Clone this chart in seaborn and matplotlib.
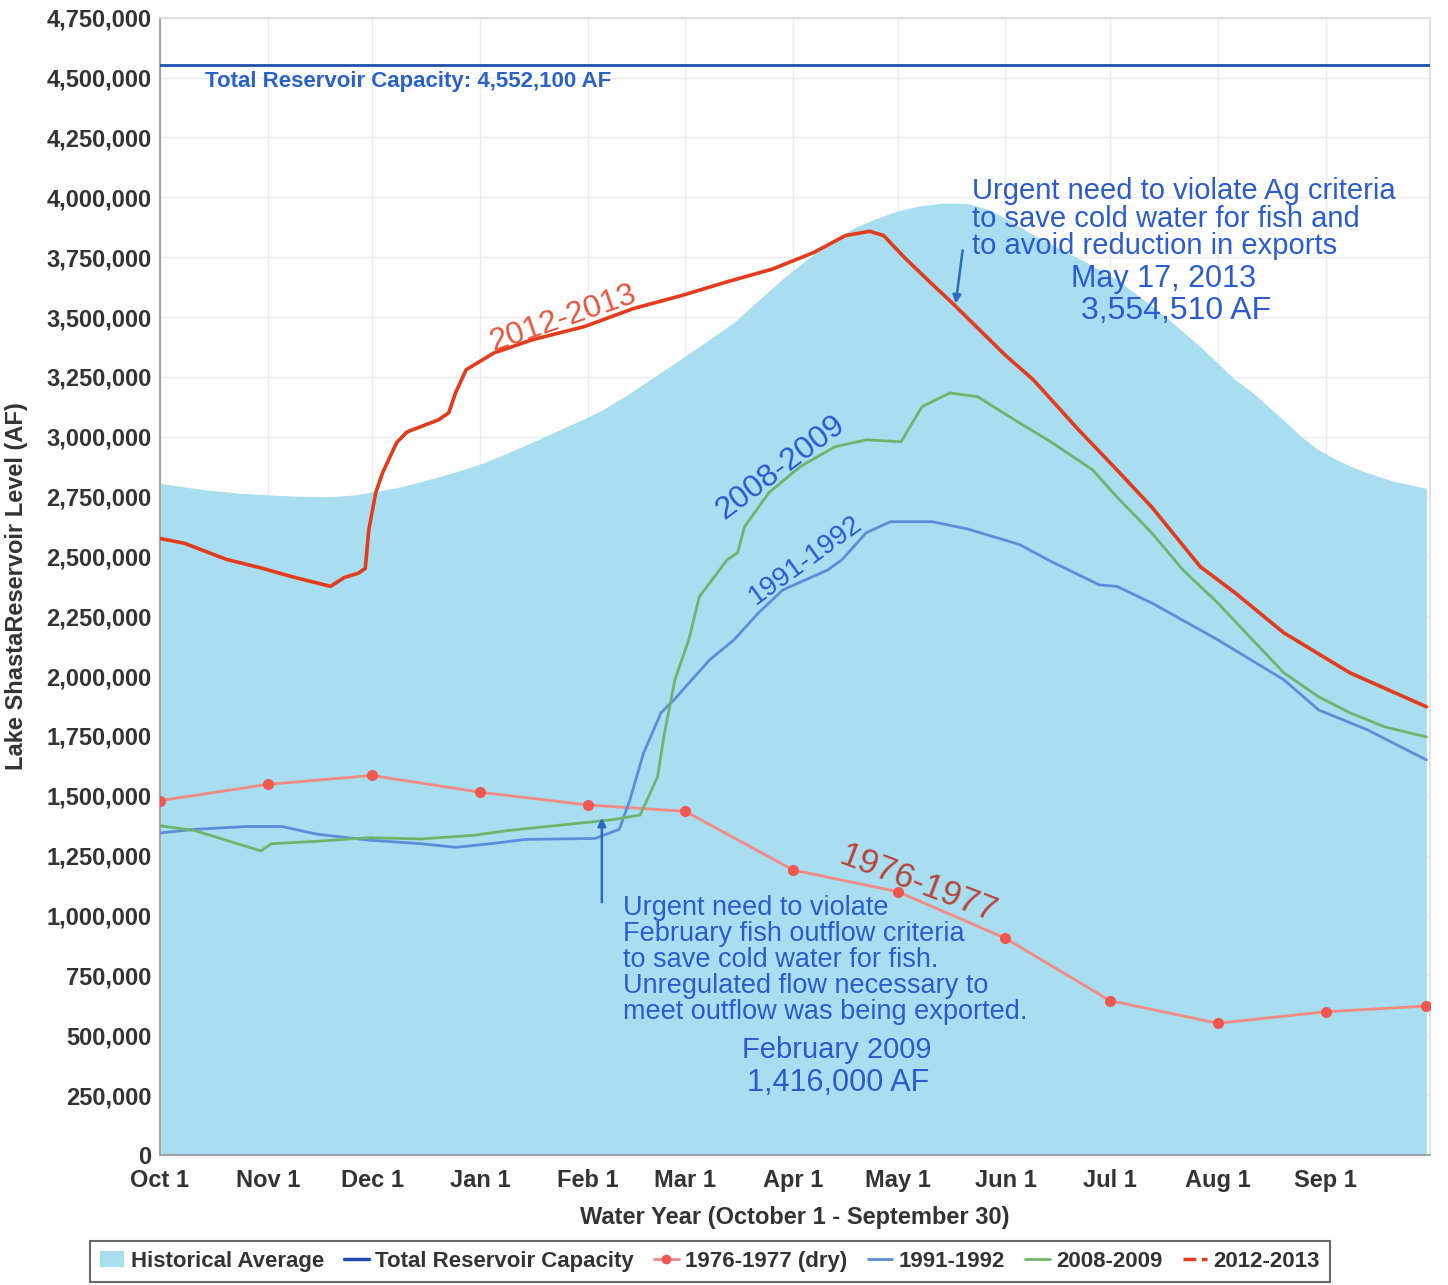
import matplotlib
matplotlib.use("Agg")
import matplotlib.pyplot as plt
from matplotlib.patches import Patch
from matplotlib.lines import Line2D
from matplotlib.ticker import FuncFormatter, MultipleLocator
import seaborn as sns

# days counted from Oct 1 (water year)
month_days = [0, 31, 61, 92, 123, 151, 182, 212, 243, 273, 304, 335]
month_labels = ["Oct 1", "Nov 1", "Dec 1", "Jan 1", "Feb 1", "Mar 1",
                "Apr 1", "May 1", "Jun 1", "Jul 1", "Aug 1", "Sep 1"]

capacity = 4552100

# historical average (area)
hist_days = [0, 8, 15, 23, 31, 40, 49, 56, 62, 70, 77, 85, 93, 102, 112, 120,
             127, 134, 141, 148, 155, 165, 172, 179, 185, 190, 195, 200, 206,
             212, 218, 225, 232, 238, 243, 249, 256, 265, 275, 282, 290, 299,
             304, 309, 314, 319, 324, 328, 333, 338, 343, 347, 355, 364]
hist_vals = [2805000, 2788000, 2775000, 2764000, 2757000, 2751000, 2749000,
             2757000, 2771000, 2793000, 2820000, 2853000, 2891000, 2945000,
             3010000, 3062000, 3110000, 3172000, 3240000, 3308000, 3377000,
             3478000, 3570000, 3660000, 3730000, 3785000, 3835000, 3876000,
             3912000, 3943000, 3963000, 3976000, 3974000, 3950000, 3912000,
             3860000, 3805000, 3738000, 3656000, 3580000, 3489000, 3376000,
             3308000, 3238000, 3185000, 3120000, 3055000, 3000000, 2945000,
             2905000, 2872000, 2849000, 2812000, 2785000]

# 1976-1977 (dry), monthly points
dry_days = month_days + [364]
dry_vals = [1480000, 1548000, 1585000, 1515000, 1462000, 1435000, 1190000,
            1100000, 905000, 645000, 550000, 598000, 622000]

# 1991-1992
y91_days = [0, 10, 25, 35, 45, 60, 75, 85, 95, 105, 125, 132, 135, 139, 144,
            148, 152, 158, 165, 172, 179, 192, 196, 203, 210, 222, 232, 247,
            256, 270, 275, 285, 304, 323, 333, 347, 364]
y91_vals = [1345000, 1360000, 1372000, 1372000, 1340000, 1315000, 1300000,
            1285000, 1300000, 1318000, 1322000, 1360000, 1480000, 1679000,
            1847000, 1905000, 1971000, 2068000, 2152000, 2264000, 2360000,
            2444000, 2486000, 2599000, 2645000, 2645000, 2615000, 2550000,
            2480000, 2381000, 2375000, 2306000, 2152000, 1985000, 1859000,
            1776000, 1650000]

# 2008-2009
y08_days = [0, 10, 20, 29, 32, 45, 60, 75, 90, 100, 120, 130, 138, 143, 145,
            148, 152, 155, 163, 166, 168, 175, 184, 194, 203, 213, 219, 227,
            235, 247, 256, 268, 275, 285, 294, 304, 314, 323, 333, 342, 352,
            364]
y08_vals = [1375000, 1355000, 1310000, 1270000, 1300000, 1310000, 1325000,
            1320000, 1335000, 1355000, 1385000, 1400000, 1420000, 1579000,
            1763000, 1985000, 2152000, 2331000, 2486000, 2515000, 2624000,
            2766000, 2875000, 2958000, 2987000, 2979000, 3125000, 3183000,
            3167000, 3058000, 2979000, 2862000, 2749000, 2599000, 2444000,
            2306000, 2152000, 2014000, 1914000, 1847000, 1788000, 1746000]

# 2012-2013
y12_days = [0, 7, 19, 29, 38, 49, 53, 57, 59, 60, 62, 64, 68, 71, 80, 83, 85,
            88, 96, 107, 122, 136, 150, 163, 176, 188, 197, 204, 208, 214,
            221, 228, 236, 243, 251, 264, 275, 285, 299, 309, 323, 342, 364]
y12_vals = [2575000, 2555000, 2488000, 2452000, 2415000, 2375000, 2412000,
            2430000, 2450000, 2610000, 2766000, 2850000, 2975000, 3020000,
            3070000, 3100000, 3185000, 3280000, 3350000, 3405000, 3460000,
            3535000, 3590000, 3647000, 3700000, 3770000, 3840000, 3858000,
            3840000, 3748000, 3650000, 3554510, 3440000, 3340000, 3238000,
            3029000, 2862000, 2707000, 2457000, 2348000, 2181000, 2014000,
            1872000]

sns.set_theme(style="white")
plt.rcParams["font.family"] = ["Liberation Sans", "DejaVu Sans"]

fill_c = "#a8def0"
cap_c = "#1f4fae"
dry_c = "#f38a84"
c91 = "#5b8ed8"
c08 = "#6db56d"
c12 = "#e33b1c"
ink = "#2a5bd0"

fig = plt.figure(figsize=(14.48, 12.85), dpi=100)
ax = fig.add_axes([0.1105, 0.1012, 0.877, 0.885])

ax.fill_between(hist_days, hist_vals, 0, color=fill_c, lw=0, zorder=1)
ax.axhline(capacity, color=cap_c, lw=2, zorder=3)

sns.lineplot(x=dry_days, y=dry_vals, ax=ax, color=dry_c, lw=2, marker="o",
             markersize=8, markerfacecolor="#f2574f", markeredgewidth=0, zorder=4)
sns.lineplot(x=y91_days, y=y91_vals, ax=ax, color=c91, lw=2, zorder=4)
sns.lineplot(x=y08_days, y=y08_vals, ax=ax, color=c08, lw=2, zorder=4)
sns.lineplot(x=y12_days, y=y12_vals, ax=ax, color=c12, lw=2.6, zorder=5)

ax.set_xlim(0, 365)
ax.set_ylim(0, 4750000)
ax.set_xticks(month_days)
ax.set_xticklabels(month_labels)
ax.yaxis.set_major_locator(MultipleLocator(250000))
ax.yaxis.set_major_formatter(FuncFormatter(lambda v, p: f"{int(v):,}"))
ax.grid(True, color="#ececec", lw=1)
ax.set_axisbelow(True)
for s in ["top", "right"]:
    ax.spines[s].set_color("#dddddd")
for s in ["left", "bottom"]:
    ax.spines[s].set_color("#999999")
ax.tick_params(axis="both", labelsize=17, colors="#333333", length=4,
               direction="out")
ax.tick_params(axis="y", pad=2)
ax.tick_params(axis="x", pad=6)
for lab in ax.get_xticklabels() + ax.get_yticklabels():
    lab.set_fontweight("bold")
ax.set_xlabel("Water Year (October 1 - September 30)", fontsize=17,
              fontweight="bold", color="#333333", labelpad=10)
ax.set_ylabel("Lake ShastaReservoir Level (AF)", fontsize=17,
              fontweight="bold", color="#333333")
ax.yaxis.set_label_coords(-0.104, 0.5)

ax.text(13, 4483000, "Total Reservoir Capacity: 4,552,100 AF", fontsize=16,
        fontweight="bold", color="#2a62c9", va="center", ha="left", zorder=6)

# handwritten notes
ax.text(233.5, 4085000, "Urgent need to violate Ag criteria\n"
        "to save cold water for fish and\n"
        "to avoid reduction in exports", fontsize=21, color=ink,
        ha="left", va="top", linespacing=0.98, zorder=6)
ax.text(288.5, 3660000, "May 17, 2013", fontsize=22, color=ink, ha="center",
        va="center", zorder=6)
ax.text(292, 3525000, "3,554,510 AF", fontsize=23, color=ink, ha="center",
        va="center", zorder=6)
ax.annotate("", xy=(228.6, 3545000), xytext=(230.8, 3790000),
            arrowprops=dict(arrowstyle="-|>", color="#2a6ac0", lw=1.8),
            zorder=6)

ax.text(133, 1085000, "Urgent need to violate\n"
        "February fish outflow criteria\n"
        "to save cold water for fish.\n"
        "Unregulated flow necessary to\n"
        "meet outflow was being exported.", fontsize=19.5, color=ink,
        ha="left", va="top", linespacing=1.0, zorder=6)
ax.text(194.5, 440000, "February 2009", fontsize=21, color=ink, ha="center",
        va="center", zorder=6)
ax.text(195, 300000, "1,416,000 AF", fontsize=22, color=ink, ha="center",
        va="center", zorder=6)
ax.annotate("", xy=(127, 1420000), xytext=(127, 1044000),
            arrowprops=dict(arrowstyle="-|>", color="#2a6ac0", lw=1.8),
            zorder=6)

ax.text(116, 3495000, "2012-2013", fontsize=23, color="#e8553f", rotation=19,
        ha="center", va="center", zorder=6)
ax.text(178.4, 2870000, "2008-2009", fontsize=23, color=ink, rotation=37,
        ha="center", va="center", zorder=6)
ax.text(185.5, 2485000, "1991-1992", fontsize=20, color=ink, rotation=36,
        ha="center", va="center", zorder=6)
ax.text(218, 1132000, "1976-1977", fontsize=25, color="#b8443a", rotation=-21,
        ha="center", va="center", zorder=6)

handles = [
    Patch(facecolor=fill_c, edgecolor="none"),
    Line2D([], [], color=cap_c, lw=2.5),
    Line2D([], [], color=dry_c, lw=2, marker="o", markersize=7,
           markerfacecolor="#f2574f", markeredgewidth=0),
    Line2D([], [], color=c91, lw=2),
    Line2D([], [], color=c08, lw=2),
    Line2D([], [], color=c12, lw=2.5, ls="--"),
]
labels = ["Historical Average", "Total Reservoir Capacity", "1976-1977 (dry)",
          "1991-1992", "2008-2009", "2012-2013"]
leg = fig.legend(handles, labels, loc="lower left",
                 bbox_to_anchor=(90 / 1448, 3 / 1285), ncol=6, frameon=True,
                 fontsize=16, handlelength=1.1, handletextpad=0.3,
                 columnspacing=0.9, borderpad=0.45, borderaxespad=0,
                 fancybox=False)
leg.get_frame().set_edgecolor("#444444")
leg.get_frame().set_linewidth(1.5)
for t in leg.get_texts():
    t.set_fontweight("bold")
    t.set_color("#333333")

plt.savefig("out.png", dpi=100)
